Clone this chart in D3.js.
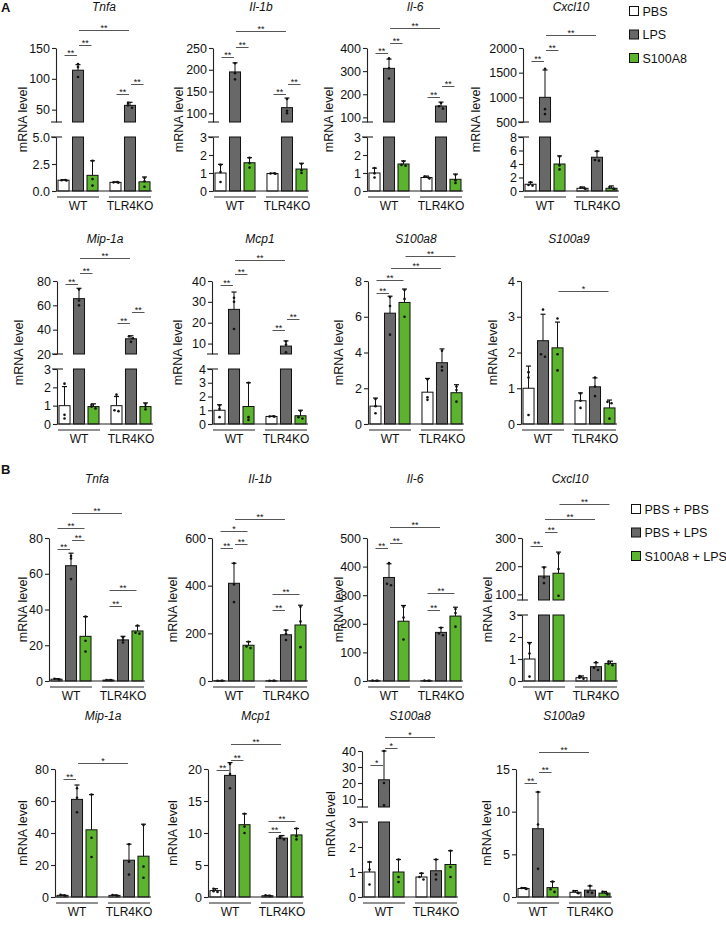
<!DOCTYPE html>
<html>
<head>
<meta charset="utf-8">
<script src="https://cdn.jsdelivr.net/npm/d3@7"></script>
<style>
body { margin: 0; background: #fff; }
text { font-family: "Liberation Sans", Arial, sans-serif; fill: #111; }
</style>
</head>
<body>
<svg id="fig" width="726" height="933"></svg>
<script>
// ---- data ----
var groups = ["WT", "TLR4KO"];
var legendA = ["PBS", "LPS", "S100A8"];
var legendB = ["PBS + PBS", "PBS + LPS", "S100A8 + LPS"];
var genes = ["Tnfa", "Il-1b", "Il-6", "Cxcl10", "Mip-1a", "Mcp1", "S100a8", "S100a9"];

// bar order: WT PBS, WT LPS, WT S100A8, KO PBS, KO LPS, KO S100A8
var meanA = [
  [1.0, 114, 1.45, 0.8, 57, 0.85],
  [1.0, 195, 1.57, 0.97, 113, 1.22],
  [1.0, 312, 1.5, 0.75, 149, 0.65],
  [1.0, 1000, 4.0, 0.4, 5.0, 0.4],
  [1.0, 65.5, 0.95, 1.0, 32.5, 0.95],
  [1.0, 26.4, 1.27, 0.55, 8.8, 0.6],
  [1.0, 6.2, 6.8, 1.78, 3.43, 1.75],
  [1.0, 2.33, 2.13, 0.65, 1.04, 0.45]
];
var sdA = [
  [0.05, 9, 1.35, 0.05, 5, 0.45],
  [0.48, 21, 0.28, 0.02, 22, 0.32],
  [0.27, 40, 0.17, 0.08, 17, 0.29],
  [0.3, 554, 1.2, 0.2, 0.9, 0.35],
  [1.04, 8.5, 0.15, 0.5, 2.5, 0.2],
  [0.4, 8.3, 1.73, 0.02, 2.5, 0.4],
  [0.45, 0.95, 0.75, 0.77, 0.77, 0.45],
  [0.62, 0.74, 0.72, 0.22, 0.25, 0.22]
];
var ptsA = [
  [[1.0, 1.02, 0.97], [124, 119, 103], [2.8, 1.1, 0.5], [0.8, 0.82, 0.78], [61, 57, 53], [1.2, 0.9, 0.4]],
  [[1.45, 1.05, 0.5], [215, 192, 178], [1.85, 1.55, 1.3], [0.97, 0.98, 0.96], [133, 106, 100], [1.5, 1.15, 1.0]],
  [[1.28, 0.98, 0.75], [355, 312, 268], [1.65, 1.45, 1.4], [0.8, 0.75, 0.7], [162, 148, 138], [0.9, 0.6, 0.45]],
  [[1.3, 0.9, 0.8], [1580, 760, 660], [5.1, 3.8, 3.2], [0.5, 0.4, 0.3], [5.9, 4.6, 4.5], [0.6, 0.35, 0.3]],
  [[2.2, 0.5, 0.3], [73, 64, 60], [1.05, 0.95, 0.85], [1.6, 0.75, 0.7], [34.5, 33, 30], [1.1, 0.95, 0.8]],
  [[1.35, 1.1, 0.5], [32, 30, 17], [3.0, 0.5, 0.3], [0.55, 0.56, 0.54], [11, 9.5, 5.8], [0.95, 0.5, 0.4]],
  [[1.4, 1.0, 0.6], [7.1, 6.6, 5.0], [7.5, 7.0, 6.0], [2.5, 1.5, 1.35], [4.1, 3.2, 3.0], [2.1, 1.9, 1.25]],
  [[1.45, 1.3, 0.25], [3.2, 1.95, 1.88], [2.95, 1.95, 1.5], [0.85, 0.65, 0.45], [1.3, 1.05, 0.78], [0.62, 0.58, 0.15]]
];
// axis domains: lower segment, upper segment (null = no break)
var lowDomA = [[0, 5], [0, 3], [0, 3], [0, 8], [0, 3], [0, 4], [0, 8], [0, 4]];
var highDomA = [[30, 150], [80, 250], [80, 400], [500, 2000], [20, 80], [5, 40], null, null];
var lowTicksA = [[0, 2.5, 5], [0, 1, 2, 3], [0, 1, 2, 3], [0, 2, 4, 6, 8], [0, 1, 2, 3], [0, 1, 2, 3, 4], [0, 2, 4, 6, 8], [0, 1, 2, 3, 4]];
var highTicksA = [[50, 100, 150], [100, 150, 200, 250], [100, 200, 300, 400], [500, 1000, 1500, 2000], [20, 40, 60, 80], [10, 20, 30, 40], null, null];
// significance brackets: bar i, bar j, label, height (axis units)
var sigA = [
  [[0, 1, "**", 138.6], [1, 2, "**", 155], [3, 4, "**", 75.4], [4, 5, "**", 91.6], [1, 4, "**", 179]],
  [[0, 1, "**", 229], [1, 2, "**", 252], [3, 4, "**", 144], [4, 5, "**", 167], [1, 4, "**", 289]],
  [[0, 1, "**", 378], [1, 2, "**", 422], [3, 4, "**", 188], [4, 5, "**", 236], [1, 4, "**", 486]],
  [[0, 1, "**", 1736], [1, 2, "**", 1959], [1, 4, "**", 2264]],
  [[0, 1, "**", 77.5], [1, 2, "**", 86.7], [3, 4, "**", 45.8], [4, 5, "**", 54.2], [1, 4, "**", 99]],
  [[0, 1, "**", 38], [1, 2, "**", 43.4], [3, 4, "**", 16.7], [4, 5, "**", 22], [1, 4, "**", 50.2]],
  [[0, 1, "**", 7.33], [0, 2, "**", 8.06], [1, 4, "**", 8.73], [2, 5, "**", 9.4]],
  [[2, 5, "*", 3.72]]
];

var meanB = [
  [1.0, 64.5, 25, 0.5, 23, 28],
  [1.0, 410, 150, 1.0, 194, 235],
  [1.0, 362, 209, 1.0, 170, 227],
  [1.0, 165, 175, 0.15, 0.65, 0.8],
  [1.0, 61, 42, 1.0, 23, 25.5],
  [1.0, 19, 11.3, 0.2, 9.2, 9.7],
  [1.0, 22, 1.0, 0.8, 1.05, 1.3],
  [1.0, 8.0, 1.1, 0.55, 0.8, 0.45]
];
var sdB = [
  [0.3, 7, 11, 0.1, 2, 2.8],
  [0.5, 84, 15, 0.5, 20, 83],
  [0.5, 48, 55, 0.5, 17, 31],
  [0.75, 32, 75, 0.08, 0.18, 0.1],
  [0.3, 9, 22, 0.3, 10, 20],
  [0.3, 2.0, 1.7, 0.05, 0.4, 1.0],
  [0.4, 18, 0.5, 0.15, 0.45, 0.55],
  [0.1, 4.3, 0.7, 0.2, 0.5, 0.2]
];
var ptsB = [
  [[1.3, 0.9, 0.8], [70, 68.5, 57], [36, 22.5, 16.5], [0.6, 0.5, 0.4], [24.5, 23, 21.5], [31, 27, 26.5]],
  [[1.2, 1.0, 0.8], [494, 405, 331], [165, 145, 138], [1.2, 1.0, 0.8], [212, 198, 172], [312, 250, 142]],
  [[1.2, 1.0, 0.8], [412, 340, 335], [260, 222, 145], [1.2, 1.0, 0.8], [186, 166, 160], [252, 238, 190]],
  [[1.7, 1.25, 0.2], [195, 160, 140], [245, 190, 95], [0.22, 0.15, 0.1], [0.85, 0.6, 0.5], [0.88, 0.78, 0.72]],
  [[1.3, 0.9, 0.8], [68, 62, 53], [64, 37, 25], [1.2, 0.9, 0.8], [33, 22, 14], [45, 19, 12]],
  [[1.3, 0.9, 0.8], [20.8, 19.2, 17], [13, 11, 10], [0.25, 0.2, 0.15], [9.5, 9.2, 9], [10.7, 9.5, 9]],
  [[1.4, 1.1, 0.5], [40, 20, 6], [1.5, 0.8, 0.6], [0.95, 0.8, 0.7], [1.5, 0.9, 0.7], [1.85, 1.2, 0.8]],
  [[1.05, 1.0, 0.95], [12.3, 8.5, 3.3], [1.8, 0.9, 0.6], [0.7, 0.5, 0.45], [1.3, 0.6, 0.5], [0.6, 0.45, 0.3]]
];
var lowDomB = [[0, 80], [0, 600], [0, 500], [0, 3], [0, 80], [0, 20], [0, 3], [0, 15]];
var highDomB = [null, null, null, [80, 300], null, null, [5, 40], null];
var lowTicksB = [[0, 20, 40, 60, 80], [0, 200, 400, 600], [0, 100, 200, 300, 400, 500], [0, 1, 2, 3], [0, 20, 40, 60, 80], [0, 5, 10, 15, 20], [0, 1, 2, 3], [0, 5, 10, 15]];
var highTicksB = [null, null, null, [100, 200, 300], null, null, [10, 20, 30, 40], null];
var sigB = [
  [[0, 1, "**", 73.8], [1, 2, "**", 78.9], [0, 2, "**", 85.6], [3, 4, "**", 42], [3, 5, "**", 50.9], [1, 4, "**", 94]],
  [[0, 1, "**", 557], [1, 2, "**", 575], [0, 2, "*", 631], [3, 4, "**", 296], [3, 5, "**", 363], [1, 4, "**", 680]],
  [[0, 1, "**", 465], [1, 2, "**", 482], [3, 4, "**", 250], [3, 5, "**", 306], [1, 4, "**", 539]],
  [[0, 1, "**", 272], [1, 2, "**", 321], [1, 4, "**", 367], [2, 5, "**", 421]],
  [[0, 1, "**", 73.8], [1, 4, "*", 83.7]],
  [[0, 1, "**", 19.8], [1, 2, "**", 21.4], [3, 4, "**", 10.2], [3, 5, "**", 11.9], [1, 4, "**", 23.9]],
  [[0, 1, "*", 31], [1, 2, "*", 42], [1, 4, "*", 48.5]],
  [[0, 1, "**", 13.4], [1, 2, "**", 14.6], [1, 4, "**", 17]]
];

// ---- layout ----
var rows = [
  { top: 48, bot: 191, title: 11 },
  { top: 281, bot: 424, title: 243 },
  { top: 538, bot: 681, title: 483 },
  { top: 769, bot: 897, title: 720 }
];
var colX = [[56, 213, 367, 523], [57, 212, 368, 521], [49, 212, 367, 522], [55, 208, 362, 516]];
var topShift = [[0, 0, 0, 0], [0, 0, 0, 0], [0, 0, 0, 0], [0, 0, -18, 0]];
var labelDx = [[29, 30, 34, 43], [34, 30, 25, 24], [22, 35, 24, 30], [28, 31, 27, 25]];
var segPx = [[74, 74, 74, 74], [73, 73, 0, 0], [0, 0, 0, 62], [0, 0, 56, 0]];
var gapPx = 15;
var fills = ["#ffffff", "#686868", "#5cb42e"];

var svg = d3.select("#fig");

function drawPanel(p) {
  var g = svg.append("g");
  var x0 = p.x0;
  var outer = d3.scaleBand().domain(groups).range([x0 + 2, x0 + 94]).paddingInner(0.23);
  var inner = d3.scaleBand().domain([0, 1, 2]).range([0, outer.bandwidth()]).paddingInner(0.24);
  var bw = inner.bandwidth();
  function bx(i) { return outer(groups[Math.floor(i / 3)]) + inner(i % 3); }
  function cx(i) { return bx(i) + bw / 2; }

  var broken = p.high != null;
  var yl, yh;
  if (broken) {
    yl = d3.scaleLinear().domain(p.low).range([p.yBot, p.yTop + p.seg + gapPx]);
    yh = d3.scaleLinear().domain(p.high).range([p.yTop + p.seg, p.yTop]);
  } else {
    yl = d3.scaleLinear().domain(p.low).range([p.yBot, p.yTop]);
    yh = yl;
  }
  function Y(v) {
    if (!broken || v <= p.low[1]) return yl(v);
    if (v >= p.high[0]) return yh(v);
    return (yl(p.low[1]) + yh(p.high[0])) / 2;
  }

  // bars
  var rects = [];
  p.mean.forEach(function (m, i) {
    if (!broken || m <= p.low[1]) {
      rects.push({ i: i, y1: yl(m), y2: yl(0) });
    } else {
      rects.push({ i: i, y1: yl(p.low[1]), y2: yl(0) });
      rects.push({ i: i, y1: yh(m), y2: yh(p.high[0]) });
    }
  });
  g.selectAll("rect.bar").data(rects).enter().append("rect")
    .attr("x", function (d) { return bx(d.i); })
    .attr("y", function (d) { return d.y1; })
    .attr("width", bw)
    .attr("height", function (d) { return d.y2 - d.y1; })
    .attr("fill", function (d) { return fills[d.i % 3]; })
    .attr("stroke", "#111").attr("stroke-width", 1);

  // error bars (mean + SD)
  p.mean.forEach(function (m, i) {
    var c = m + p.sd[i];
    if (broken && m <= p.low[1]) c = Math.min(c, p.low[1]);
    g.append("line").attr("x1", cx(i)).attr("x2", cx(i))
      .attr("y1", Y(m)).attr("y2", Y(c)).attr("stroke", "#111").attr("stroke-width", 1);
    g.append("line").attr("x1", cx(i) - 2.5).attr("x2", cx(i) + 2.5)
      .attr("y1", Y(c)).attr("y2", Y(c)).attr("stroke", "#111").attr("stroke-width", 1.2);
  });

  // individual points
  p.pts.forEach(function (arr, i) {
    var placed = [];
    arr.forEach(function (v) {
      var y = Y(v), dx = 0;
      var near = placed.filter(function (q) { return Math.abs(q.y - y) < 2.6; });
      if (near.length === 1) { dx = 2; near[0].dx = -2; }
      else if (near.length > 1) { dx = 3; }
      placed.push({ y: y, dx: dx });
    });
    placed.forEach(function (q) {
      g.append("circle").attr("cx", cx(i) + q.dx).attr("cy", q.y).attr("r", 1.3).attr("fill", "#111");
    });
  });

  // y axes
  function fmt(ticks) {
    var dec = ticks.some(function (t) { return t % 1 !== 0; });
    return d3.format(dec ? ".1f" : "d");
  }
  var axG = g.append("g").attr("transform", "translate(" + x0 + ",0)");
  axG.append("g").call(d3.axisLeft(yl).tickValues(p.lowTicks).tickSize(4).tickSizeOuter(0).tickPadding(2).tickFormat(fmt(p.lowTicks)));
  if (broken) {
    axG.append("g").call(d3.axisLeft(yh).tickValues(p.highTicks).tickSize(4).tickSizeOuter(0).tickPadding(2).tickFormat(fmt(p.highTicks)));
    [yl(p.low[1]), yh(p.high[0])].forEach(function (yy) {
      axG.append("line").attr("x1", -5).attr("x2", 6).attr("y1", yy).attr("y2", yy)
        .attr("stroke", "#222").attr("stroke-width", 1.1);
    });
  }
  axG.selectAll("path.domain, .tick line").attr("stroke", "#222").attr("stroke-width", 1.1);
  axG.selectAll(".tick text").attr("font-size", 12.5).attr("fill", "#111")
    .attr("font-family", "Liberation Sans, Arial, sans-serif");

  // x axis line, group underlines and labels
  g.append("line").attr("x1", x0).attr("x2", x0 + 96).attr("y1", p.yBot).attr("y2", p.yBot)
    .attr("stroke", "#222").attr("stroke-width", 1.1);
  groups.forEach(function (gr) {
    g.append("line").attr("x1", outer(gr) - 1).attr("x2", outer(gr) + outer.bandwidth() + 1)
      .attr("y1", p.yBot + 6).attr("y2", p.yBot + 6).attr("stroke", "#222").attr("stroke-width", 1);
    g.append("text").attr("x", outer(gr) + outer.bandwidth() / 2).attr("y", p.yBot + 18.5)
      .attr("text-anchor", "middle").attr("font-size", 12).text(gr);
  });

  // title and y label
  g.append("text").attr("x", x0 + 48).attr("y", p.titleY).attr("text-anchor", "middle")
    .attr("font-size", 12).attr("font-style", "italic").text(p.gene);
  g.append("text").attr("transform", "translate(" + (x0 - p.labelDx) + "," + ((p.yTop + p.yBot) / 2) + ") rotate(-90)")
    .attr("text-anchor", "middle").attr("font-size", 12.5).text("mRNA level");

  // significance brackets
  p.sig.forEach(function (s) {
    var y = Math.round(yh(s[3])) + 0.5;
    var xa = cx(s[0]) + 1, xb = cx(s[1]) - 1;
    g.append("line").attr("x1", xa).attr("x2", xb).attr("y1", y).attr("y2", y)
      .attr("stroke", "#555").attr("stroke-width", 1);
    g.append("text").attr("x", (xa + xb) / 2).attr("y", y + 0.5).attr("text-anchor", "middle")
      .attr("font-size", 9).attr("fill", "#333").text(s[2]);
  });
}

function drawSet(setIdx, mean, sd, pts, lowDom, highDom, lowTicks, highTicks, sig) {
  genes.forEach(function (gene, k) {
    var r = setIdx * 2 + Math.floor(k / 4), c = k % 4;
    drawPanel({
      gene: gene, x0: colX[r][c], yTop: rows[r].top + topShift[r][c], yBot: rows[r].bot, titleY: rows[r].title,
      seg: segPx[r][c], labelDx: labelDx[r][c],
      mean: mean[k], sd: sd[k], pts: pts[k], low: lowDom[k], high: highDom[k],
      lowTicks: lowTicks[k], highTicks: highTicks[k], sig: sig[k]
    });
  });
}
drawSet(0, meanA, sdA, ptsA, lowDomA, highDomA, lowTicksA, highTicksA, sigA);
drawSet(1, meanB, sdB, ptsB, lowDomB, highDomB, lowTicksB, highTicksB, sigB);

// legends
function legend(items, x, y0) {
  var lg = svg.append("g");
  items.forEach(function (name, i) {
    var y = y0 + i * 23.5;
    lg.append("rect").attr("x", x).attr("y", y - 4.5).attr("width", 9).attr("height", 9)
      .attr("fill", fills[i]).attr("stroke", "#111").attr("stroke-width", 1);
    lg.append("text").attr("x", x + 13).attr("y", y + 4.5).attr("font-size", 12.5).text(name);
  });
}
legend(legendA, 629.5, 11);
legend(legendB, 631.5, 509);

svg.append("text").attr("x", 1).attr("y", 12).attr("font-size", 13).attr("font-weight", "bold").text("A");
svg.append("text").attr("x", 1).attr("y", 474).attr("font-size", 13).attr("font-weight", "bold").text("B");
</script>
</body>
</html>
